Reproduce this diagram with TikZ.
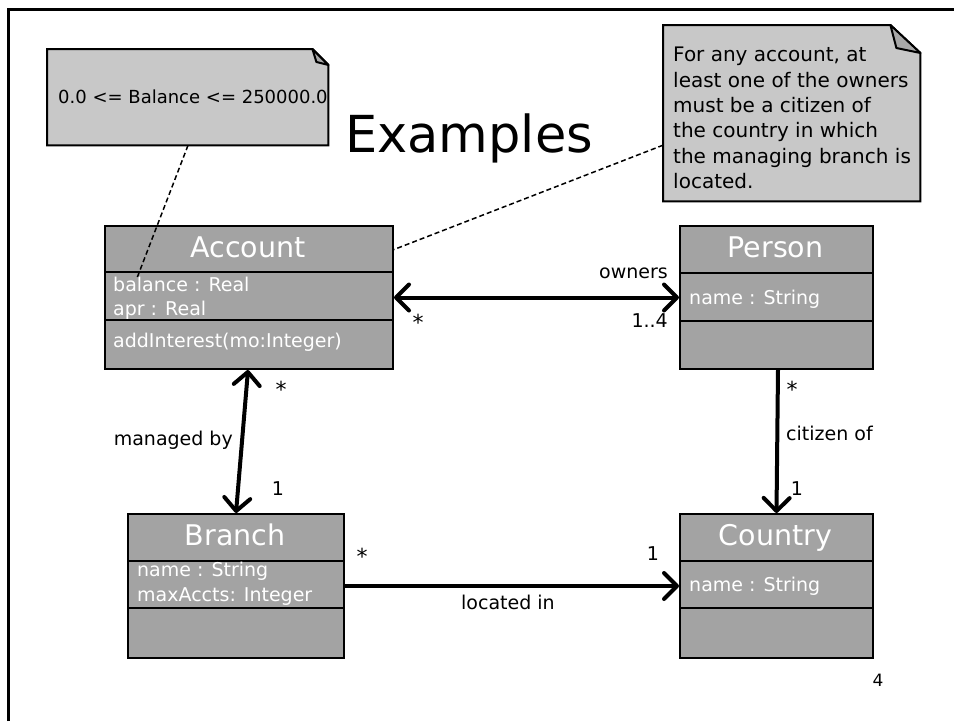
\documentclass[tikz,border=0pt]{standalone}
\usepackage{fontspec}
\setmainfont{DejaVu Sans}
\usetikzlibrary{arrows.meta,calc}
\definecolor{clsgray}{RGB}{163,163,163}
\definecolor{notegray}{RGB}{200,200,200}
\definecolor{foldgray}{RGB}{168,168,168}
\begin{document}
\begin{tikzpicture}[x=1pt,y=-1pt,
  >={Straight Barb[length=13pt,width=26pt,round]},
  cls/.style={draw=black, line width=2pt, fill=clsgray, rectangle, inner sep=0pt, anchor=north west},
  divider/.style={line width=2pt},
  clsname/.style={text=white, font=\fontsize{28.5}{30}\selectfont, inner sep=0pt, anchor=base},
  clsattr/.style={text=white, font=\fontsize{19}{22}\selectfont, inner sep=0pt, anchor=base west},
  lbl/.style={font=\fontsize{19}{22}\selectfont, inner sep=0pt},
  starlbl/.style={font=\fontsize{22}{24}\selectfont, inner sep=0pt, anchor=north},
  assoc/.style={line width=4pt},
  noteframe/.style={inner sep=0pt, anchor=north west},
  notebox/.style={draw=black, line width=2pt, fill=notegray, line join=miter},
  foldbox/.style={draw=black, line width=2pt, fill=foldgray, line join=round},
  anchorline/.style={line width=1.5pt, dash pattern=on 5pt off 3pt}
]
\useasboundingbox (0,0) rectangle (954,721);
\fill[white] (0,0) rectangle (954,721);
% slide frame
\draw[line width=3pt] (8,721) -- (8,9) -- (954,9);

% title
\node[inner sep=0pt, anchor=base west, font=\fontsize{51}{55}\selectfont] (title) at (345,152) {Examples};

% note 1
\node[noteframe, minimum width=281pt, minimum height=96pt] (n1) at (47,49) {};
\draw[notebox] (n1.north west) -- ([xshift=-16pt]n1.north east) -- ([yshift=-16pt]n1.north east) -- (n1.south east) -- (n1.south west) -- cycle;
\draw[foldbox] ([xshift=-16pt]n1.north east) -- ([xshift=-12pt,yshift=-13pt]n1.north east) -- ([yshift=-16pt]n1.north east) -- cycle;
\node[inner sep=0pt, anchor=base west, font=\fontsize{18}{22}\selectfont] (n1t) at (58,103) {0.0 <= Balance <= 250000.0};

% note 2
\node[noteframe, minimum width=257pt, minimum height=176pt] (n2) at (663,25) {};
\draw[notebox] (n2.north west) -- ([xshift=-30pt]n2.north east) -- ([yshift=-28pt]n2.north east) -- (n2.south east) -- (n2.south west) -- cycle;
\draw[foldbox] ([xshift=-30pt]n2.north east) -- ([xshift=-24pt,yshift=-23pt]n2.north east) -- ([yshift=-28pt]n2.north east) -- cycle;
\node[inner sep=0pt, anchor=north west, align=left, font=\fontsize{20}{25.4}\selectfont] (n2t) at (673,47)
  {For any account, at\\least one of the owners\\must be a citizen of\\the country in which\\the managing branch is\\located.};

% Account
\node[cls, minimum width=288pt, minimum height=143pt] (acc) at (104,225) {};
\draw[divider] ([yshift=-47pt]acc.north west) -- ([yshift=-47pt]acc.north east);
\draw[divider] ([yshift=-95pt]acc.north west) -- ([yshift=-95pt]acc.north east);
\node[clsname] (accn) at (248,257) {Account};
\node[clsattr] (acca1) at (113,291) {balance : Real};
\node[clsattr] (acca2) at (113,315) {apr : Real};
\node[clsattr] (acco1) at (113,347) {addInterest(mo:Integer)};

% Person
\node[cls, minimum width=193pt, minimum height=143pt] (per) at (679,225) {};
\draw[divider] ([yshift=-48pt]per.north west) -- ([yshift=-48pt]per.north east);
\draw[divider] ([yshift=-96pt]per.north west) -- ([yshift=-96pt]per.north east);
\node[clsname] (pern) at (775.5,257) {Person};
\node[clsattr] (pera1) at (689,304) {name : String};

% Branch
\node[cls, minimum width=216pt, minimum height=144pt] (br) at (127,513) {};
\draw[divider] ([yshift=-48pt]br.north west) -- ([yshift=-48pt]br.north east);
\draw[divider] ([yshift=-95pt]br.north west) -- ([yshift=-95pt]br.north east);
\node[clsname] (brn) at (235,545) {Branch};
\node[clsattr] (bra1) at (137,576) {name : String};
\node[clsattr] (bra2) at (137,601.5) {maxAccts: Integer};

% Country
\node[cls, minimum width=193pt, minimum height=144pt] (cty) at (679,513) {};
\draw[divider] ([yshift=-48pt]cty.north west) -- ([yshift=-48pt]cty.north east);
\draw[divider] ([yshift=-95pt]cty.north west) -- ([yshift=-95pt]cty.north east);
\node[clsname] (ctyn) at (775.5,545) {Country};
\node[clsattr] (ctya1) at (689,591.5) {name : String};

% note anchors
\coordinate (n1end) at (137,278);
\draw[anchorline] ([xshift=141pt]n1.south west) -- (n1end);
\draw[anchorline] ([yshift=-32pt]n2.west) -- ([yshift=48pt]acc.east);

% associations
\draw[assoc,<->] (acc.east) -- (per.west);
\draw[assoc,<->] ([xshift=-1pt]acc.south) -- (br.north);
\draw[assoc,->] ([xshift=1.5pt]per.south) -- (cty.north);
\draw[assoc,->] (br.east) -- (cty.west);

% labels
\node[lbl, anchor=base east] (lown) at (668,278) {owners};
\node[starlbl] (s1) at (418,314) {*};
\node[lbl, anchor=base east] (l14) at (668,327) {1..4};
\node[starlbl] (s2) at (281,381) {*};
\node[lbl, anchor=base east] (lman) at (233,445) {managed by};
\node[lbl, anchor=base] (l1a) at (278,495) {1};
\node[starlbl] (s3) at (792,381) {*};
\node[lbl, anchor=base west] (lcit) at (786,440) {citizen of};
\node[lbl, anchor=base] (l1b) at (797,495) {1};
\node[starlbl] (s4) at (362,548) {*};
\node[lbl, anchor=base] (l1c) at (653,560) {1};
\node[lbl, anchor=base west] (lloc) at (461,609) {located in};
\node[inner sep=0pt, anchor=base, font=\fontsize{17}{20}\selectfont] (pg) at (878,686) {4};
\end{tikzpicture}
\end{document}
